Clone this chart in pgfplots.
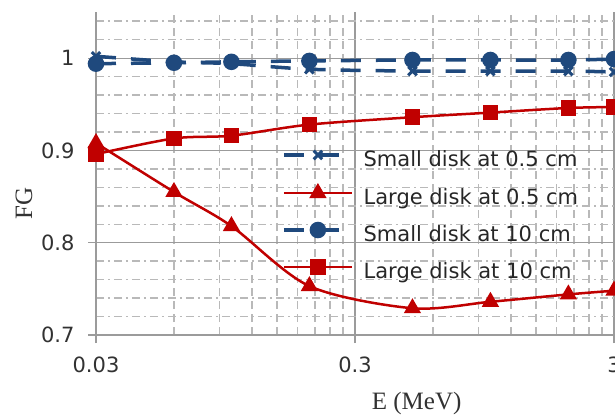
\documentclass[border=0pt]{standalone}
\usepackage{fontspec}
\setmainfont{Liberation Serif}
\newfontfamily\tah{DejaVu Sans}
\usepackage{pgfplots}
\pgfplotsset{compat=1.18}
\definecolor{fgblue}{RGB}{31,73,125}
\definecolor{fgred}{RGB}{192,0,0}
\definecolor{gridmaj}{RGB}{155,155,155}
\definecolor{gridmin}{RGB}{185,185,185}
\definecolor{ticktext}{RGB}{50,50,50}

\begin{document}
\begin{tikzpicture}
\begin{axis}[
  at={(96pt,80pt)}, anchor=south west,
  scale only axis, width=518pt, height=323pt,
  xmode=log, xmin=0.03, xmax=3, ymin=0.7, ymax=1.05,
  xtick={0.03,0.3,3}, xticklabels={0.03,0.3,3},
  minor xtick={0.06,0.09,0.12,0.15,0.18,0.21,0.24,0.27,0.6,0.9,1.2,1.5,1.8,2.1,2.4,2.7},
  ytick={0.7,0.8,0.9,1}, yticklabels={0.7,0.8,0.9,1},
  minor ytick={0.72,0.74,0.76,0.78,0.82,0.84,0.86,0.88,0.92,0.94,0.96,0.98,1.02,1.04},
  grid=both,
  major grid style={gridmaj, line width=1.2pt},
  minor x grid style={gridmin, line width=1.5pt, dash pattern=on 8pt off 5pt},
  minor y grid style={gridmin, line width=1.5pt, dash pattern=on 8pt off 4pt on 2pt off 4pt},
  axis x line*=bottom, axis y line*=left,
  axis line style={gridmaj, line width=1.2pt, -},
  tick align=outside, major tick length=8pt, minor tick length=0pt,
  tick style={gridmaj, line width=1.2pt},
  ticklabel style={font=\tah\fontsize{21}{25}\selectfont, text=ticktext},
  yticklabel style={xshift=-10pt},
  xticklabel style={yshift=-10pt},
  xlabel={E (MeV)}, ylabel={FG},
  label style={font=\fontsize{25}{30}\selectfont, text=ticktext},
  xlabel style={at={(axis description cs:0.619,-0.232)}, anchor=base},
  ylabel style={at={(axis description cs:-0.139,0.406)}, anchor=center},
  legend style={at={(axis description cs:0.359,0.571)}, anchor=north west,
    draw=none, fill=none, inner sep=0pt, row sep=15pt, column sep=10pt,
    font=\tah\fontsize{21}{25}\selectfont, text=black!85,
    nodes={inner sep=0pt, text height=15pt, text depth=4pt}},
  legend cell align=left,
  legend image code/.code={
    \draw[#1] (0pt,6pt) -- (68pt,6pt);
    \draw[#1, solid] plot coordinates {(34pt,6pt)};
  },
]
\addplot[fgblue, line width=3.5pt, dash pattern=on 20pt off 15pt, smooth,
  mark=x, mark size=6pt, mark options={solid, line width=3pt}]
  coordinates {(0.03,1.002) (0.06,0.996) (0.1,0.994) (0.2,0.988)
               (0.5,0.986) (1,0.986) (2,0.986) (3,0.985)};
\addlegendentry{Small disk at 0.5 cm}
\addplot[fgred, line width=2.5pt, smooth,
  mark=triangle*, mark size=7.5pt, mark options={solid}]
  coordinates {(0.03,0.908) (0.06,0.855) (0.1,0.818) (0.2,0.753)
               (0.5,0.729) (1,0.736) (2,0.744) (3,0.748)};
\addlegendentry{Large disk at 0.5 cm}
\addplot[fgblue, line width=3.5pt, dash pattern=on 20pt off 15pt, smooth,
  mark=*, mark size=6.5pt, mark options={solid}]
  coordinates {(0.03,0.994) (0.06,0.995) (0.1,0.996) (0.2,0.997)
               (0.5,0.998) (1,0.998) (2,0.998) (3,0.999)};
\addlegendentry{Small disk at 10 cm}
\addplot[fgred, line width=2.5pt, smooth,
  mark=square*, mark size=6.5pt, mark options={solid}]
  coordinates {(0.03,0.896) (0.06,0.913) (0.1,0.916) (0.2,0.928)
               (0.5,0.936) (1,0.941) (2,0.946) (3,0.947)};
\addlegendentry{Large disk at 10 cm}
\end{axis}
\pgfresetboundingbox
\useasboundingbox (0pt,0pt) rectangle (615pt,415pt);
\end{tikzpicture}
\end{document}
